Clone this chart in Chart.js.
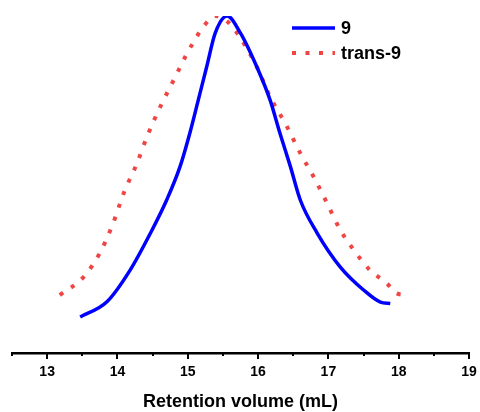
<!DOCTYPE html>
<html>
<head>
<meta charset="utf-8">
<script src="https://cdn.jsdelivr.net/npm/chart.js@4/dist/chart.umd.min.js"></script>
<style>
  html, body { margin: 0; padding: 0; background: #fff; }
  #gpc { display: block; }
</style>
</head>
<body>
<canvas id="gpc" width="480" height="412"></canvas>
<script>
// retention volume (mL) and normalised detector response
var volume9 = [13.47, 13.85, 14.18, 14.47, 14.70, 14.89, 15.03, 15.15, 15.27, 15.39, 15.56,
               15.75, 15.98, 16.17, 16.31, 16.46, 16.60, 16.84, 17.17, 17.50, 17.74, 17.88];
var signal9 = [0.107, 0.152, 0.246, 0.356, 0.454, 0.553, 0.653, 0.751, 0.850, 0.949, 1.0,
               0.949, 0.850, 0.751, 0.653, 0.553, 0.454, 0.356, 0.255, 0.187, 0.151, 0.147];

var volumeTrans9 = [13.18, 13.52, 13.75, 13.94, 14.09, 14.28, 14.42, 14.61, 14.80, 14.99, 15.10,
                    15.22, 15.39, 15.55, 15.70, 15.98, 16.17, 16.41, 16.60, 16.79, 16.98, 17.17,
                    17.36, 17.59, 17.83, 17.97, 18.12];
var signalTrans9 = [0.172, 0.226, 0.297, 0.386, 0.475, 0.564, 0.642, 0.731, 0.810, 0.889, 0.929,
                    0.968, 1.0, 0.986, 0.950, 0.850, 0.761, 0.672, 0.593, 0.523, 0.445, 0.365,
                    0.306, 0.246, 0.207, 0.177, 0.172];

var xMin = 12.5, xMax = 19;

function toPoints(xs, ys) {
    return xs.map(function (x, i) { return { x: x, y: ys[i] }; });
}

// major ticks at whole numbers, short minor ticks in between
var tickMarks = {
    id: 'tickMarks',
    afterDraw: function (chart) {
        var ctx = chart.ctx;
        var scale = chart.scales.x;
        var y = scale.top;
        ctx.save();
        ctx.strokeStyle = '#000';
        ctx.lineWidth = 2;
        scale.ticks.forEach(function (t) {
            var px = Math.round(scale.getPixelForValue(t.value));
            var len = Number.isInteger(t.value) ? 6 : 3;
            ctx.beginPath();
            ctx.moveTo(px, y);
            ctx.lineTo(px, y + len);
            ctx.stroke();
        });
        ctx.restore();
    }
};

// legend in the upper right of the plot
var inlineLegend = {
    id: 'inlineLegend',
    afterDraw: function (chart) {
        var ctx = chart.ctx;
        var x0 = 292, len = 43, rowY = [28, 53];
        ctx.save();
        ctx.font = 'bold 18px "Liberation Sans", Arial, sans-serif';
        ctx.textBaseline = 'middle';
        ctx.fillStyle = '#000';
        chart.data.datasets.forEach(function (ds, i) {
            ctx.beginPath();
            ctx.strokeStyle = ds.borderColor;
            ctx.lineWidth = ds.borderWidth;
            ctx.setLineDash(ds.borderDash || []);
            ctx.moveTo(x0, rowY[i]);
            ctx.lineTo(x0 + len, rowY[i]);
            ctx.stroke();
            ctx.fillText(ds.label, x0 + len + 6, rowY[i] + 1);
        });
        ctx.restore();
    }
};

var ctx = document.getElementById('gpc');

var gpcChart = new Chart(ctx, {
    type: 'line',
    data: {
        datasets: [{
            label: '9',
            data: toPoints(volume9, signal9),
            borderColor: '#0000ff',
            borderWidth: 3.5,
            pointRadius: 0,
            fill: false,
            cubicInterpolationMode: 'monotone'
        }, {
            label: 'trans-9',
            data: toPoints(volumeTrans9, signalTrans9),
            borderColor: '#f04545',
            borderWidth: 4,
            borderDash: [4, 9.5],
            borderCapStyle: 'butt',
            pointRadius: 0,
            fill: false,
            cubicInterpolationMode: 'monotone'
        }]
    },
    options: {
        responsive: false,
        maintainAspectRatio: false,
        animation: false,
        layout: { padding: { left: 12, right: 11, top: 16, bottom: 0 } },
        plugins: {
            legend: { display: false },
            tooltip: { enabled: false }
        },
        scales: {
            x: {
                type: 'linear',
                min: xMin,
                max: xMax,
                border: { display: true, color: '#000', width: 2.5 },
                grid: { display: true, drawOnChartArea: false, drawTicks: false },
                ticks: {
                    stepSize: 0.5,
                    padding: 11,
                    color: '#000',
                    font: { family: '"Liberation Sans", Arial, sans-serif', size: 14, weight: 'bold' },
                    maxRotation: 0,
                    autoSkip: false,
                    callback: function (v) { return Number.isInteger(v) ? String(v) : ''; }
                },
                title: {
                    display: true,
                    text: 'Retention volume (mL)',
                    color: '#000',
                    padding: { top: 0, bottom: -1 },
                    font: { family: '"Liberation Sans", Arial, sans-serif', size: 18, weight: 'bold' }
                },
                afterFit: function (scale) {
                    scale.height = 59;
                    scale.paddingLeft = 0;
                    scale.paddingRight = 0;
                }
            },
            y: {
                type: 'linear',
                display: false,
                min: 0,
                max: 1
            }
        }
    },
    plugins: [tickMarks, inlineLegend]
});
</script>
</body>
</html>
